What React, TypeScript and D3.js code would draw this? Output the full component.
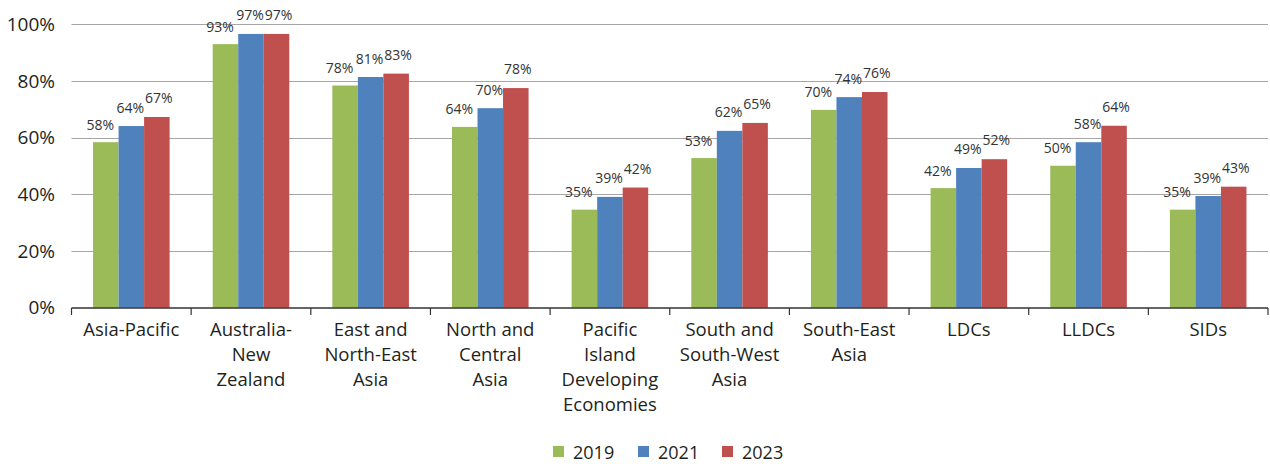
import React from "react";
import * as d3 from "d3";

const categories: string[][] = [
  ["Asia-Pacific"],
  ["Australia-", "New", "Zealand"],
  ["East and", "North-East", "Asia"],
  ["North and", "Central", "Asia"],
  ["Pacific", "Island", "Developing", "Economies"],
  ["South and", "South-West", "Asia"],
  ["South-East", "Asia"],
  ["LDCs"],
  ["LLDCs"],
  ["SIDs"],
];
const seriesNames = ["2019", "2021", "2023"];
const values2019 = [58.4, 93.0, 78.4, 63.8, 34.6, 52.8, 69.8, 42.2, 50.1, 34.6];
const values2021 = [64.1, 96.6, 81.4, 70.4, 39.1, 62.4, 74.3, 49.3, 58.4, 39.4];
const values2023 = [67.3, 96.6, 82.6, 77.5, 42.4, 65.2, 76.1, 52.4, 64.2, 42.7];
const yTicks = [0, 20, 40, 60, 80, 100];
const colors = ["#9BBB59", "#4F81BD", "#C0504D"];

const W = 1270;
const H = 464;
const FONT = "'Open Sans', sans-serif";
const TEXT = "#231F20";

export default function App() {
  const seriesValues = [values2019, values2021, values2023];
  const x0 = d3.scaleBand<number>().domain(d3.range(categories.length)).range([71.5, 1268]).padding(0);
  const bw = x0.bandwidth();
  const x1 = d3.scaleBand<number>().domain([0, 1, 2]).range([0.18 * bw, 0.82 * bw]).padding(0);
  const y = d3.scaleLinear().domain([0, 100]).range([307.7, 24.3]);
  const labelDx = [-5.5, -1, 2];
  const labelDy = [12.5, 13.5, 14];
  const legendSquareX = [553, 638, 722];

  return (
    <svg width={W} height={H} style={{ position: "absolute", left: 0, top: 0, background: "#fff" }}>
      {/* gridlines */}
      {yTicks.filter((t) => t > 0).map((t) => (
        <line key={t} x1={71.5} x2={1268} y1={Math.round(y(t)) + 0.5} y2={Math.round(y(t)) + 0.5} stroke="#A6A6A6" strokeWidth={1.2} />
      ))}
      {/* y tick labels */}
      {yTicks.map((t) => (
        <text key={t} x={55} y={y(t)} dy="0.35em" textAnchor="end" fontFamily={FONT} fontSize={19} fill={TEXT}>
          {t}%
        </text>
      ))}
      {/* bars */}
      {seriesValues.map((vals, s) =>
        vals.map((v, i) => (
          <rect key={`${s}-${i}`} x={(x0(i) as number) + (x1(s) as number)} y={y(v)} width={x1.bandwidth()} height={y(0) - y(v)} fill={colors[s]} />
        ))
      )}
      {/* data labels */}
      {seriesValues.map((vals, s) =>
        vals.map((v, i) => (
          <text key={`l${s}-${i}`} x={(x0(i) as number) + (x1(s) as number) + x1.bandwidth() / 2 + labelDx[s]} y={y(v) - labelDy[s]} textAnchor="middle" fontFamily={FONT} fontSize={14} fill="#333">
            {Math.round(v)}%
          </text>
        ))
      )}
      {/* x axis */}
      <line x1={71.5} x2={1268} y1={308} y2={308} stroke="#333" strokeWidth={1.5} />
      {d3.range(categories.length + 1).map((i) => {
        const xx = 71.5 + i * bw;
        return <line key={`t${i}`} x1={xx} x2={xx} y1={308} y2={315} stroke="#333" strokeWidth={1.2} />;
      })}
      {/* category labels */}
      {categories.map((lines, i) => (
        <text key={`c${i}`} textAnchor="middle" fontFamily={FONT} fontSize={18.5} fill={TEXT}>
          {lines.map((ln, k) => (
            <tspan key={k} x={(x0(i) as number) + bw / 2} y={336 + k * 25}>
              {ln}
            </tspan>
          ))}
        </text>
      ))}
      {/* legend */}
      {seriesNames.map((n, s) => (
        <g key={n}>
          <rect x={legendSquareX[s]} y={446} width={11} height={11} fill={colors[s]} />
          <text x={legendSquareX[s] + 20} y={458.5} fontFamily={FONT} fontSize={18} fill={TEXT}>
            {n}
          </text>
        </g>
      ))}
    </svg>
  );
}
